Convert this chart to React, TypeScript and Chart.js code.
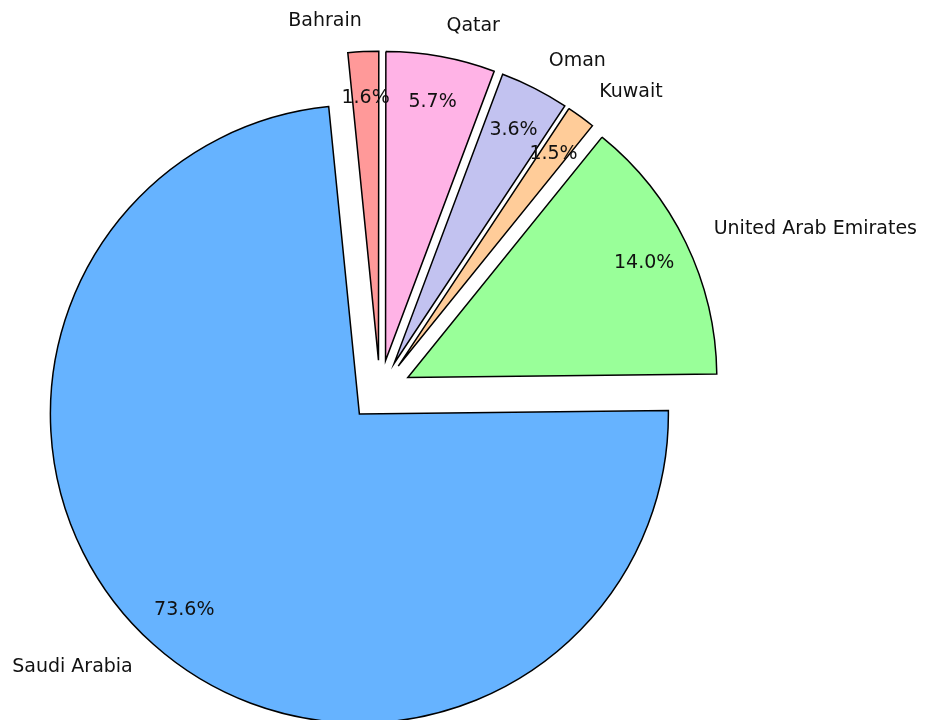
import React, { useEffect, useRef } from 'react';
import { Chart, registerables } from 'chart.js';

Chart.register(...registerables);

const labels = ['Bahrain', 'Qatar', 'Oman', 'Kuwait', 'United Arab Emirates', 'Saudi Arabia'];
const shares = [1.6, 5.7, 3.6, 1.5, 14.0, 73.6];
const colors = ['#ff9999', '#ffb3e6', '#c2c2f0', '#ffcc99', '#99ff99', '#66b3ff'];

const RADIUS = 309;
const EXPLODE = 0.1;
const LABEL_DIST = 1.1;
const PCT_DIST = 0.85;
const ROTATION = -5.7;
const FONT = '19px "DejaVu Sans"';

const explodeFix = {
  id: 'explodeFix',
  afterDatasetsUpdate(chart: any) {
    const meta = chart.getDatasetMeta(0);
    const R = meta.controller.outerRadius;
    meta.data.forEach((el: any) => {
      const off = (el.options.offset || 0) / 4;
      const ro = off * (1 - Math.sin(Math.min(Math.PI, el.circumference || 0)));
      el.outerRadius = R - ro;
      const widen = ro / Math.PI / R / 2;
      el.startAngle = el.startAngle - widen;
      el.endAngle = el.endAngle + widen;
    });
  },
};

const pieLabels = {
  id: 'pieLabels',
  afterDatasetsDraw(chart: any) {
    const ctx = chart.ctx;
    const meta = chart.getDatasetMeta(0);
    const R = meta.controller.outerRadius;
    const data = chart.data.datasets[0].data as number[];
    const total = data.reduce((a, b) => a + b, 0);
    ctx.save();
    ctx.font = FONT;
    ctx.fillStyle = '#111';
    ctx.textBaseline = 'middle';
    meta.data.forEach((el: any, i: number) => {
      const mid = (el.startAngle + el.endAngle) / 2;
      const off = (el.options.offset || 0) / 4;
      const cx = el.x + Math.cos(mid) * off;
      const cy = el.y + Math.sin(mid) * off;
      const lx = cx + Math.cos(mid) * R * LABEL_DIST;
      const ly = cy + Math.sin(mid) * R * LABEL_DIST;
      ctx.textAlign = Math.cos(mid) > 0 ? 'left' : 'right';
      ctx.fillText(chart.data.labels[i], lx, ly);
      const px = cx + Math.cos(mid) * R * PCT_DIST;
      const py = cy + Math.sin(mid) * R * PCT_DIST;
      ctx.textAlign = 'center';
      ctx.fillText(((data[i] / total) * 100).toFixed(1) + '%', px, py);
    });
    ctx.restore();
  },
};

export default function App() {
  const ref = useRef<HTMLCanvasElement | null>(null);
  useEffect(() => {
    document.body.style.margin = '0';
    if (!ref.current) return;
    const chart = new Chart(ref.current, {
      type: 'pie',
      data: {
        labels,
        datasets: [
          {
            data: shares,
            backgroundColor: colors,
            borderColor: '#000',
            borderWidth: 1.5,
            borderJoinStyle: 'miter',
            offset: 4 * EXPLODE * RADIUS,
            hoverOffset: 4 * EXPLODE * RADIUS,
          } as any,
        ],
      },
      options: {
        responsive: false,
        animation: false,
        radius: RADIUS,
        rotation: ROTATION,
        layout: { padding: { left: 0, right: 168, top: 62, bottom: 0 } },
        plugins: {
          legend: { display: false },
          tooltip: { enabled: false },
        },
        events: [],
      } as any,
      plugins: [explodeFix, pieLabels],
    });
    return () => chart.destroy();
  }, []);
  return (
    <div style={{ width: 928, height: 720, background: '#fff' }}>
      <canvas ref={ref} width={928} height={720} style={{ width: 928, height: 720 }} />
    </div>
  );
}
